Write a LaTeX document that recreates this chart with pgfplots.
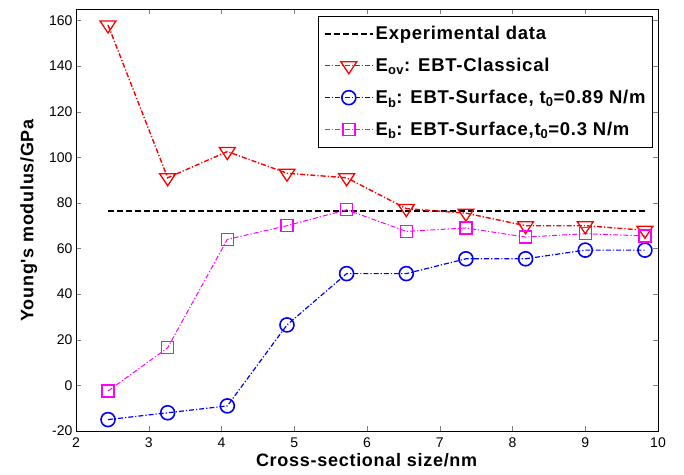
\documentclass[border=0pt]{standalone}
\usepackage{pgfplots}
\pgfplotsset{compat=1.18}
\usepackage{fontspec}
\setmainfont{Liberation Sans}
\newfontfamily\spacedfont[LetterSpace=4]{Liberation Sans}
\usetikzlibrary{calc}
\definecolor{mag}{rgb}{1,0,1}
\pgfplotstableread{
x y
2.44 -2.5
3.26 16.5
4.08 64
4.90 70
5.72 77
6.54 67.5
7.36 69
8.18 65
9.00 66.5
9.82 65.5
}\magdata
\begin{document}
\begin{tikzpicture}
\begin{axis}[
  scale only axis,
  width=582pt, height=422pt,
  xmin=2, xmax=10, ymin=-20, ymax=165,
  xtick={2,3,...,10}, ytick={-20,0,...,160},
  tick align=inside, tick pos=both,
  major tick length=5pt,
  /pgf/number format/assume math mode=true,
  tick label style={font=\fontsize{14}{16}\selectfont},
  xticklabel style={yshift=-3pt},
  xlabel={\textbf{Cross-sectional size/nm}},
  ylabel={\textbf{Young's modulus/GPa}},
  label style={font=\fontsize{18}{20}\spacedfont},
  xlabel style={yshift=1pt},
  ylabel style={yshift=5pt},
  axis line style={line width=0.8pt},
  legend cell align=left,
  legend style={at={(1,1)}, anchor=north east, xshift=-5pt, yshift=-7pt,
    font=\fontsize{18.5}{20}\spacedfont\bfseries, draw=black, line width=0.8pt,
    row sep=13pt, inner xsep=5pt, inner ysep=8pt},
  legend image code/.code={\draw[mark repeat=2,mark phase=2] plot coordinates {(0cm,0cm)(0.85cm,0cm)(1.7cm,0cm)};},
]
\addplot[black, line width=1.5pt, dash pattern=on 6pt off 3pt] coordinates {(2.44,76.5)(9.82,76.5)};
\addlegendentry{Experimental data}
\addplot[red, line width=1.4pt, dash pattern=on 5pt off 2pt on 1.2pt off 2pt,
  mark=triangle, mark size=8pt, mark options={solid, rotate=180, xscale=1.15, line width=1.3pt}]
  coordinates {(2.44,158)(3.26,91)(4.08,102.5)(4.90,93)(5.72,91)(6.54,77.5)(7.36,75.5)(8.18,70)(9.00,70)(9.82,68)};
\addlegendentry{E\textsubscript{ov}: EBT-Classical}
\addplot[blue, line width=1.2pt, dash pattern=on 5pt off 2pt on 1.2pt off 2pt,
  mark=o, mark size=7pt, mark options={solid, line width=1.6pt}]
  coordinates {(2.44,-15)(3.26,-12)(4.08,-9)(4.90,26.5)(5.72,49)(6.54,49)(7.36,55.5)(8.18,55.5)(9.00,59.3)(9.82,59.3)};
\addlegendentry{E\textsubscript{b}: EBT-Surface, t\textsubscript{0}=0.89 N/m}
\addplot[mag, line width=1.0pt, dash pattern=on 5pt off 2pt on 1.2pt off 2pt, forget plot] table {\magdata};
\addplot[only marks, draw=mag, mark=square, mark size=6pt, mark options={solid, draw=mag, line width=1.4pt},
  legend image code/.code={%
    \draw[mag, line width=1.0pt, dash pattern=on 5pt off 2pt on 1.2pt off 2pt] (0cm,0cm) -- (1.7cm,0cm);
    \draw[mag, solid, line width=1.4pt] (0.85cm-6pt,-6pt) rectangle (0.85cm+6pt,6pt);}]
  table {\magdata};
\addlegendentry{E\textsubscript{b}: EBT-Surface,t\textsubscript{0}=0.3 N/m}
\end{axis}
\path ($(current axis.south west)+(-76pt,-43pt)$) rectangle ($(current axis.north east)+(26pt,9pt)$);
\end{tikzpicture}
\end{document}
